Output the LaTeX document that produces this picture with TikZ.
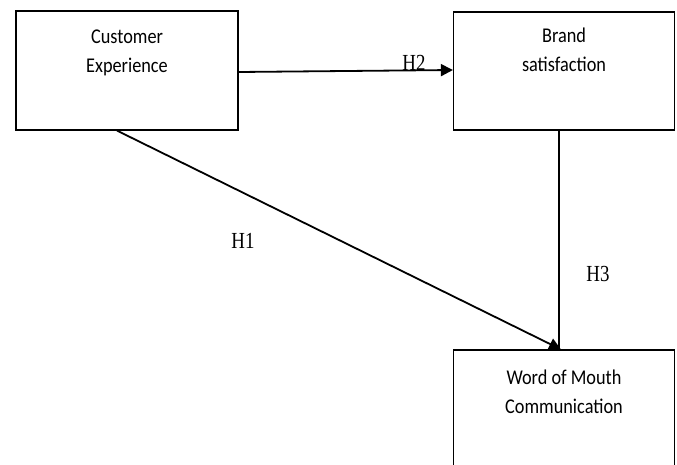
\documentclass[tikz,border=0pt]{standalone}
\usepackage{fontspec}
\setmainfont{Carlito}[FakeStretch=0.87]
\newfontfamily\hypfont{Liberation Serif}[FakeStretch=0.82]
\usetikzlibrary{arrows.meta,positioning}

\begin{document}
\begin{tikzpicture}[
    x=1pt, y=-1pt,
    >={Triangle[length=12pt,width=12pt]},
    box/.style={draw, line width=1.2pt, minimum width=222pt, minimum height=119pt, inner sep=0pt},
    boxtext/.style={font=\fontsize{21}{29}\selectfont, align=center, inner sep=0pt, anchor=north},
    hyp/.style={font=\hypfont\fontsize{23}{23}\selectfont, inner sep=0pt},
    link/.style={->, line width=1.8pt}
]
\useasboundingbox (0,0) rectangle (677,464);
\clip (0,0) rectangle (677,464);

\node[box] (cust) at (127,70.5) {};
\node[box, minimum width=221pt, minimum height=118pt] (brand) at (564,71) {};
\node[box, minimum width=221pt, minimum height=120pt] (wom) at (564,410) {};

\node[boxtext] (custtext) at ([yshift=-19pt]cust.north) {Customer\\Experience};
\node[boxtext] (brandtext) at ([yshift=-16pt]brand.north) {Brand\\satisfaction};
\node[boxtext] (womtext) at ([yshift=-20pt]wom.north) {Word of Mouth\\Communication};

\draw[link] ([yshift=-1.5pt]cust.east) -- ([yshift=1pt]brand.west);
\draw[link] ([xshift=-10pt]cust.south) -- ([xshift=-3pt]wom.north);
\draw[line width=1.2pt] ([xshift=-5pt]brand.south) -- ([xshift=-5pt]wom.north);

\node[hyp] (h2) at (414,63) {H2};
\node[hyp] (h1) at (243,241) {H1};
\node[hyp] (h3) at (598,274) {H3};
\end{tikzpicture}
\end{document}
